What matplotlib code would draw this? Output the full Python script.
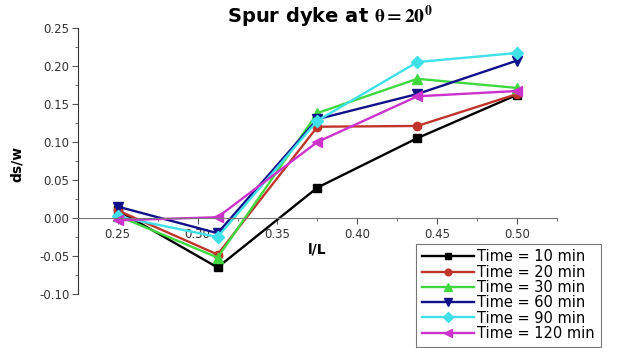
import matplotlib
matplotlib.use("Agg")
import matplotlib.pyplot as plt
from matplotlib.ticker import MultipleLocator

plt.rcParams["font.family"] = ["DejaVu Sans"]
plt.rcParams["mathtext.fontset"] = "stix"

x = [0.25, 0.3125, 0.375, 0.4375, 0.5]
t10 = [0.010, -0.065, 0.040, 0.105, 0.162]
t20 = [0.010, -0.048, 0.120, 0.121, 0.163]
t30 = [0.003, -0.052, 0.138, 0.183, 0.171]
t60 = [0.015, -0.020, 0.130, 0.163, 0.207]
t90 = [0.002, -0.025, 0.128, 0.205, 0.217]
t120 = [-0.003, 0.001, 0.100, 0.160, 0.167]
labels = ["Time = 10 min", "Time = 20 min", "Time = 30 min",
          "Time = 60 min", "Time = 90 min", "Time = 120 min"]
series = [t10, t20, t30, t60, t90, t120]
colors = ["#000000", "#c0342c", "#3fd83f", "#10108a", "#40e0e8", "#cc33cc"]
markers = ["s", "o", "^", "v", "D", "<"]
msizes = [6, 6, 7, 7, 6, 7]

fig = plt.figure(figsize=(6.17, 3.48), dpi=100)
ax = fig.add_axes([0.126, 0.155, 0.777, 0.765])

for y, c, m, ms, lab in zip(series, colors, markers, msizes, labels):
    ax.plot(x, y, color=c, marker=m, markersize=ms, linewidth=1.7, label=lab)

ax.set_xlim(0.225, 0.525)
ax.set_ylim(-0.10, 0.25)
ax.spines["top"].set_visible(False)
ax.spines["right"].set_visible(False)
ax.spines["bottom"].set_position(("data", 0))
ax.spines["bottom"].set_color("#777777")
ax.spines["left"].set_color("#333333")
ax.xaxis.set_major_locator(MultipleLocator(0.05))
ax.xaxis.set_minor_locator(MultipleLocator(0.025))
ax.yaxis.set_major_locator(MultipleLocator(0.05))
ax.yaxis.set_minor_locator(MultipleLocator(0.025))
ax.xaxis.set_major_formatter(plt.FuncFormatter(lambda v, p: f"{v:.2f}"))
ax.yaxis.set_major_formatter(plt.FuncFormatter(lambda v, p: f"{v:.2f}"))
ax.tick_params(axis="both", which="major", labelsize=8.5, length=4, color="#555555", labelcolor="#333333")
ax.tick_params(axis="both", which="minor", length=2, color="#555555")
ax.tick_params(axis="x", pad=3)
ax.tick_params(axis="y", pad=2)

fig.text(0.535, 0.951, r"Spur dyke at $\mathbf{\theta = 20^{0}}$", fontsize=14,
         fontweight="bold", ha="center", va="center")
fig.text(0.028, 0.53, "ds/w", rotation=90, fontsize=10, fontweight="bold", ha="center", va="center")
fig.text(0.514, 0.282, "l/L", fontsize=10, fontweight="bold", ha="center", va="center")

leg = fig.legend(loc="upper left", bbox_to_anchor=(0.674, 0.30), fontsize=10.5,
                 frameon=True, fancybox=False, borderpad=0.4, labelspacing=0.02,
                 handlelength=3.6, handletextpad=0.2, borderaxespad=0, markerscale=0.8)
leg.get_frame().set_edgecolor("#555555")
leg.get_frame().set_linewidth(0.8)

fig.savefig("out.png", dpi=100)
